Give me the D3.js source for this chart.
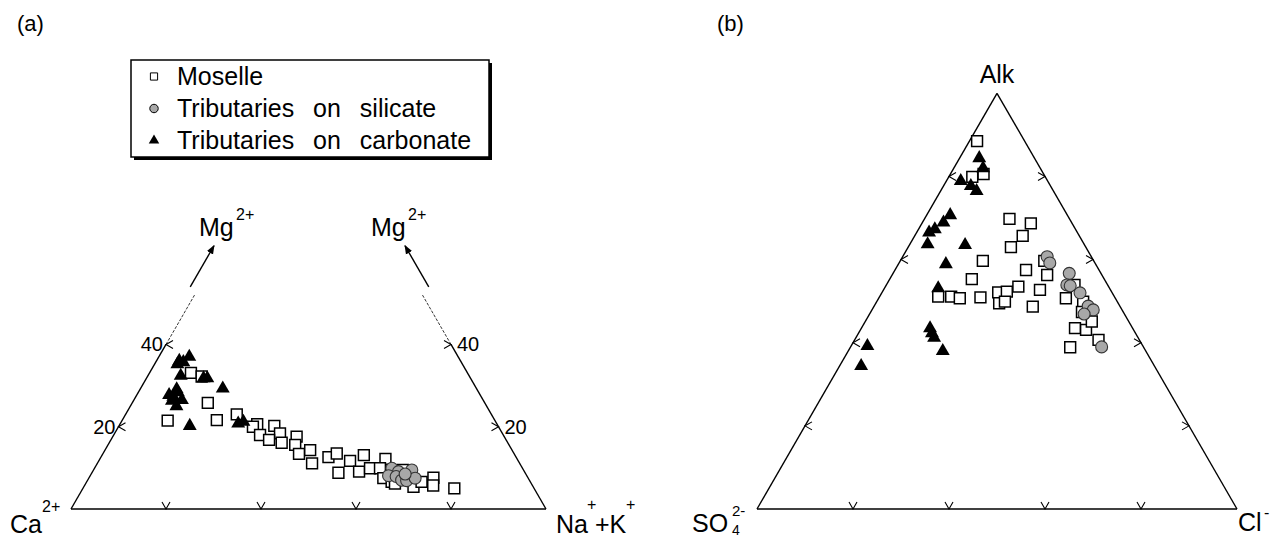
<!DOCTYPE html>
<html>
<head>
<meta charset="utf-8">
<script src="https://cdn.jsdelivr.net/npm/d3@7"></script>
<style>
body { margin: 0; background: #fff; }
text { font-family: "Liberation Sans", Arial, sans-serif; fill: #000; }
</style>
</head>
<body>
<div id="chart"></div>
<script>
// panel (a) points: [Mg %, Na+K %]  (Ca is the remainder)
var moselleA = [[33.1,8.7],[32.2,11.4],[25.8,15.9],[21.5,9.6],[21.6,19.9],[23.0,23.4],[20.6,28.9],[20.0,28.3],
  [20.2,32.7],[18.4,34.8],[18.0,30.8],[16.8,33.3],[16.1,36.3],[17.6,38.7],[15.6,39.4],[13.4,41.3],[14.3,43.2],
  [11.1,45.2],[12.6,47.9],[13.5,49.2],[8.8,51.9],[11.7,52.9],[9.1,56.1],[13.1,55.1],[9.9,58.0],[12.2,60.1],
  [9.9,60.1],[7.5,62.0],[6.6,64.2],[6.2,65.1],[5.4,69.4],[6.6,70.5],[7.6,72.5],[5.7,73.4],[5.0,78.2],[7.5,66.6],[9.5,65.1]];
var silicateA = [[9.9,62.6],[8.1,62.8],[9.1,64.4],[7.9,64.5],[9.5,67.0],[7.0,66.1],[6.9,67.2],[7.5,68.7],[8.5,66.1]];
var carbonateA = [[36.0,4.8],[35.7,5.8],[37.0,6.4],[35.2,4.8],[32.4,6.9],[31.8,12.0],[31.8,12.8],[29.3,17.3],
  [29.1,7.7],[28.4,8.3],[27.7,6.8],[27.3,7.9],[26.5,10.1],[26.3,8.1],[25.0,9.7],[20.2,14.9],[20.8,24.8],[21.2,25.7]];

// panel (b) points: [Alk %, Cl %]  (SO4 is the remainder)
var moselleB = [[88.5,1.6],[79.9,4.9],[80.6,6.9],[69.8,17.7],[68.7,22.7],[65.7,22.5],[63.0,21.4],[59.7,17.2],
  [57.5,27.3],[55.3,17.1],[51.1,12.2],[51.1,14.9],[50.7,16.9],[50.9,21.1],[52.1,24.2],[52.3,25.9],[53.5,27.7],
  [49.5,25.7],[49.9,26.7],[48.7,33.1],[52.7,32.6],[59.7,30.0],[56.3,32.3],[50.7,39.0],[53.9,39.2],[43.5,44.5],
  [43.1,47.0],[45.1,47.2],[40.7,50.8],[38.9,45.8],[49.9,43.0],[47.4,44.0]];
var silicateB = [[60.7,30.1],[59.2,31.4],[56.7,36.7],[53.9,37.6],[53.7,38.4],[52.0,41.3],[48.8,44.6],[47.9,46.1],[46.9,44.7],[39.0,52.3]];
var carbonateB = [[84.4,4.1],[82.0,6.1],[78.9,3.0],[77.7,5.7],[76.5,7.5],[70.7,4.9],[68.9,4.4],[67.3,3.4],[66.5,2.6],
  [63.7,3.7],[63.5,11.6],[58.9,9.9],[53.1,11.2],[43.5,14.3],[42.3,15.3],[41.2,16.3],[39.2,3.4],[38.0,19.7],[34.4,4.5]];

var baseTicks = [20, 40, 60, 80];
var sideTicksA = [20, 40];
var sideTicksB = [20, 40, 60, 80];
var legendNames = ["Moselle", "Tributaries on silicate", "Tributaries on carbonate"];

var svg = d3.select("#chart").append("svg").attr("width", 1285).attr("height", 539);

svg.append("defs").append("marker")
    .attr("id", "head").attr("viewBox", "0 -4 9 8")
    .attr("refX", 8).attr("refY", 0)
    .attr("markerWidth", 9).attr("markerHeight", 8)
    .attr("markerUnits", "userSpaceOnUse").attr("orient", "auto")
  .append("path").attr("d", "M0,-3.5L9,0L0,3.5Z").attr("fill", "#000");

// ternary helper: top = apex component, right = right-vertex component
function ternary(x0, x1, yBase) {
  var h = (x1 - x0) * Math.sqrt(3) / 2;
  var x = d3.scaleLinear().domain([0, 100]).range([x0, x1]);
  var y = d3.scaleLinear().domain([0, 100]).range([yBase, yBase - h]);
  return {
    px: function(top, right) { return x(right + top / 2); },
    py: function(top) { return y(top); }
  };
}

var sq = d3.symbol().type(d3.symbolSquare).size(118);
var ci = d3.symbol().type(d3.symbolCircle).size(112);
var tr = d3.symbol().type(d3.symbolTriangle).size(84);

function drawPoints(g, t, data, kind) {
  g.selectAll("path." + kind).data(data).enter().append("path")
    .attr("class", kind)
    .attr("transform", function(d) { return "translate(" + t.px(d[0], d[1]) + "," + t.py(d[0]) + ")"; })
    .attr("d", kind == "sq" ? sq : kind == "ci" ? ci : tr)
    .attr("fill", kind == "sq" ? "#fff" : kind == "ci" ? "#a8a8a8" : "#000")
    .attr("stroke", kind == "tr" ? "none" : kind == "ci" ? "#333" : "#000")
    .attr("stroke-width", kind == "sq" ? 1.5 : 1.1);
}

function seg(g, x1, y1, x2, y2, dash, w) {
  g.append("line").attr("x1", x1).attr("y1", y1).attr("x2", x2).attr("y2", y2)
    .attr("stroke", "#000").attr("stroke-width", w || 1.4)
    .attr("stroke-dasharray", dash || null);
}

function chev(g, x, y, dir) {
  var p;
  if (dir == "v") p = [[x - 4, y - 7], [x, y], [x + 4, y - 7]];
  else if (dir == "<") p = [[x + 7, y - 4], [x, y], [x + 7, y + 4]];
  else p = [[x - 7, y - 4], [x, y], [x - 7, y + 4]];
  g.append("path").attr("d", d3.line()(p)).attr("fill", "none").attr("stroke", "#000").attr("stroke-width", 1.1);
}

function txt(g, x, y, s, size, anchor) {
  return g.append("text").attr("x", x).attr("y", y).attr("font-size", size)
    .attr("text-anchor", anchor || "start").text(s);
}

// ---------- panel (a)
var ga = svg.append("g");
var ta = ternary(71, 546, 509);

txt(ga, 17, 31, "(a)", 22);

seg(ga, ta.px(0, 0), ta.py(0), ta.px(0, 100), ta.py(0));
seg(ga, ta.px(0, 0), ta.py(0), ta.px(40, 0), ta.py(40));
seg(ga, ta.px(40, 0), ta.py(40), ta.px(52, 0), ta.py(52), "3,1.5", 0.8);
seg(ga, ta.px(0, 100), ta.py(0), ta.px(40, 60), ta.py(40));
seg(ga, ta.px(40, 60), ta.py(40), ta.px(52, 48), ta.py(52), "3,1.5", 0.8);

ga.append("line")
  .attr("x1", ta.px(54, 0) - 9).attr("y1", ta.py(54))
  .attr("x2", ta.px(64, 0) - 9).attr("y2", ta.py(64))
  .attr("stroke", "#000").attr("stroke-width", 1.4).attr("marker-end", "url(#head)");
ga.append("line")
  .attr("x1", ta.px(54, 46) + 11).attr("y1", ta.py(54))
  .attr("x2", ta.px(64, 36) + 11).attr("y2", ta.py(64))
  .attr("stroke", "#000").attr("stroke-width", 1.4).attr("marker-end", "url(#head)");

baseTicks.forEach(function(v) { chev(ga, ta.px(0, v), ta.py(0), "v"); });
sideTicksA.forEach(function(v) {
  chev(ga, ta.px(v, 0), ta.py(v), "<");
  txt(ga, ta.px(v, 0) - 3, ta.py(v) + 7, v, 20, "end");
  chev(ga, ta.px(v, 100 - v), ta.py(v), ">");
  txt(ga, ta.px(v, 100 - v) + 6, ta.py(v) + 7, v, 20);
});

txt(ga, 199, 236, "Mg", 25);
txt(ga, 236, 220, "2+", 16);
txt(ga, 371, 236, "Mg", 25);
txt(ga, 408, 220, "2+", 16);
txt(ga, 10, 533, "Ca", 25);
txt(ga, 42, 512, "2+", 16);
txt(ga, 556, 533, "Na", 25);
txt(ga, 587, 510, "+", 16);
txt(ga, 595, 533, "+K", 25);
txt(ga, 626, 510, "+", 16);

drawPoints(ga, ta, moselleA, "sq");
drawPoints(ga, ta, silicateA, "ci");
drawPoints(ga, ta, carbonateA, "tr");

// legend
var lg = svg.append("g");
lg.append("rect").attr("x", 134).attr("y", 63).attr("width", 358).attr("height", 97).attr("fill", "#000");
lg.append("rect").attr("x", 131).attr("y", 60).attr("width", 358).attr("height", 97)
  .attr("fill", "#fff").attr("stroke", "#000").attr("stroke-width", 1.5);
var lsym = [d3.symbol().type(d3.symbolSquare).size(52), d3.symbol().type(d3.symbolCircle).size(56), d3.symbol().type(d3.symbolTriangle).size(48)];
var lfill = ["#fff", "#a8a8a8", "#000"];
legendNames.forEach(function(name, i) {
  var yb = 85 + i * 32;
  lg.append("path").attr("d", lsym[i]).attr("transform", "translate(154," + (yb - 8.5) + ")")
    .attr("fill", lfill[i]).attr("stroke", i == 2 ? "none" : "#000").attr("stroke-width", 1);
  txt(lg, 177, yb, name, 25).attr("word-spacing", 12);
});

// ---------- panel (b)
var gb = svg.append("g");
var tb = ternary(757, 1237, 509);

txt(gb, 717, 31, "(b)", 22);

seg(gb, tb.px(0, 0), tb.py(0), tb.px(0, 100), tb.py(0));
seg(gb, tb.px(0, 0), tb.py(0), tb.px(100, 0), tb.py(100));
seg(gb, tb.px(0, 100), tb.py(0), tb.px(100, 0), tb.py(100));

baseTicks.forEach(function(v) { chev(gb, tb.px(0, v), tb.py(0), "v"); });
sideTicksB.forEach(function(v) {
  chev(gb, tb.px(v, 0), tb.py(v), "<");
  chev(gb, tb.px(v, 100 - v), tb.py(v), ">");
});

txt(gb, 997, 83, "Alk", 25, "middle");
txt(gb, 692, 532, "SO", 25);
txt(gb, 732, 535, "4", 14);
txt(gb, 732, 516, "2-", 15);
txt(gb, 1238, 531, "Cl", 25);
txt(gb, 1264, 518, "-", 16);

drawPoints(gb, tb, moselleB, "sq");
drawPoints(gb, tb, silicateB, "ci");
drawPoints(gb, tb, carbonateB, "tr");
</script>
</body>
</html>
